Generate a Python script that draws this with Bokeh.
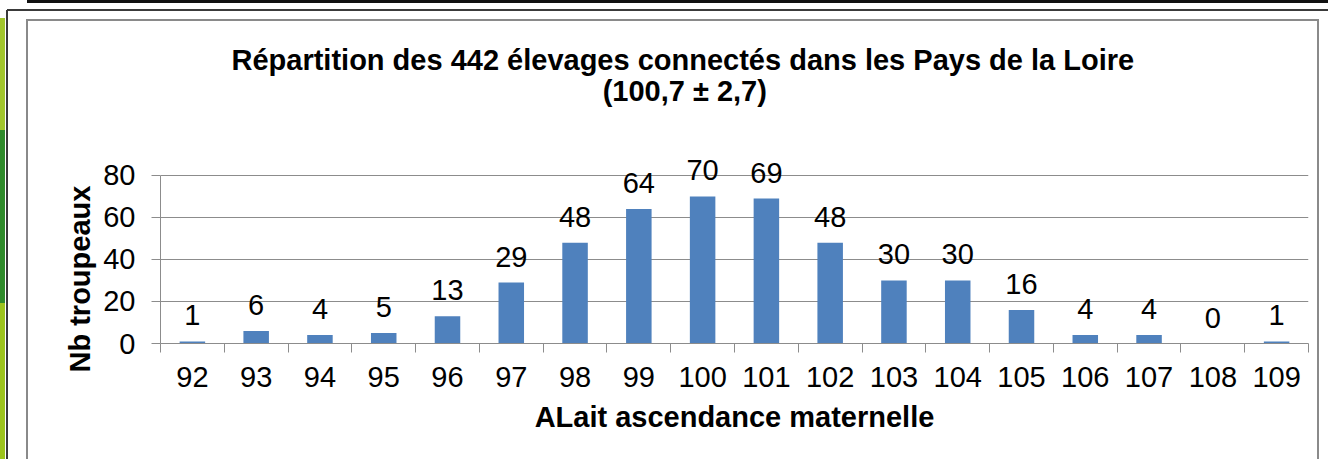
from bokeh.plotting import figure
from bokeh.models import FixedTicker, Title, Label, ColumnDataSource, Range1d
from bokeh.embed import file_html
from bokeh.resources import INLINE
from bokeh.core.properties import value

categories = [92, 93, 94, 95, 96, 97, 98, 99, 100, 101, 102, 103, 104, 105, 106, 107, 108, 109]
counts = [1, 6, 4, 5, 13, 29, 48, 64, 70, 69, 48, 30, 30, 16, 4, 4, 0, 1]
y_ticks = [0, 20, 40, 60, 80]
title_line1 = "Répartition des 442 élevages connectés dans les Pays de la Loire"
title_line2 = "(100,7 ± 2,7)"
x_label = "ALait ascendance maternelle"
y_label = "Nb troupeaux"

FONT = "Liberation Sans"
GRID = "#8c8c8c"
BAR = "#4f81bd"

W, H = 1328, 459

# decorative frame drawn with CSS behind a transparent canvas border
layers = [
    ("#111111", "1301px 3px", "27px 0px"),      # top black rule
    ("#3a3a3a", "1321px 2px", "7px 9px"),       # outer top line
    ("#3a3a3a", "2px 449px", "6px 10px"),       # outer left line
    ("#a2c62c", "5px 112px", "0px 18px"),       # left stripe light
    ("#2f8a2a", "5px 173px", "0px 130px"),      # left stripe dark
    ("#9cc31c", "5px 156px", "0px 303px"),      # left stripe light bottom
    ("#8a8a8a", "2px 439px", "26px 20px"),      # inner left
    ("#8a8a8a", "1293px 2px", "26px 19px"),     # inner top
    ("#8a8a8a", "2px 439px", "1317px 20px"),    # inner right
]
bg_img = ", ".join(f"linear-gradient({c}, {c})" for c, _, _ in layers)
bg_size = ", ".join(s for _, s, _ in layers)
bg_pos = ", ".join(ps for _, _, ps in layers)

# plot frame from y=75 to y=343 px, 2.1 px per unit -> top of range 127.6
p = figure(width=W, height=H, output_backend="svg", toolbar_location=None,
           x_range=Range1d(categories[0] - 0.5, categories[-1] + 0.5),
           y_range=Range1d(0, 127.6),
           min_border_left=160, min_border_right=20,
           min_border_top=75, min_border_bottom=116)
p.styles = {
    "background-color": "white",
    "background-image": bg_img,
    "background-size": bg_size,
    "background-position": bg_pos,
    "background-repeat": "no-repeat",
}
p.outline_line_color = None
p.background_fill_color = "white"
p.border_fill_color = None

src = ColumnDataSource(dict(x=categories, top=counts, lab=[str(c) for c in counts]))
p.vbar(x="x", top="top", bottom=0, width=0.4, source=src, fill_color=BAR, line_color=None)
p.text(x="x", y="top", text="lab", source=src, text_align="center", text_baseline="alphabetic",
       y_offset=-26, text_font=value(FONT), text_font_size="29px", text_color="black")

p.xgrid.visible = False
p.ygrid.grid_line_color = GRID
p.ygrid.grid_line_width = 1

ya = p.yaxis[0]
ya.ticker = FixedTicker(ticks=y_ticks)
ya.bounds = (y_ticks[0], y_ticks[-1])
ya.axis_line_color = GRID
ya.major_tick_line_color = GRID
ya.major_tick_out = 9
ya.major_tick_in = 0
ya.minor_tick_line_color = None
ya.major_label_text_font = FONT
ya.major_label_text_font_size = "29px"
ya.major_label_text_color = "black"
ya.major_label_standoff = 16

xa = p.xaxis[0]
boundaries = [c - 0.5 for c in categories] + [categories[-1] + 0.5]
xa.ticker = FixedTicker(ticks=categories, minor_ticks=boundaries)
xa.axis_line_color = GRID
xa.major_tick_line_color = None
xa.major_tick_out = 9
xa.minor_tick_line_color = GRID
xa.minor_tick_out = 9
xa.minor_tick_in = 0
xa.major_label_text_font = FONT
xa.major_label_text_font_size = "29px"
xa.major_label_text_color = "black"
xa.major_label_standoff = 14
xa.axis_label = x_label
xa.axis_label_text_font = FONT
xa.axis_label_text_font_style = "bold"
xa.axis_label_text_font_size = "29px"
xa.axis_label_text_color = "black"
xa.axis_label_standoff = 11

# title: first line as plot title, second line as a centred label under it
t1 = Title(text=title_line1, align="left", offset=71, standoff=0,
           text_font=FONT, text_font_style="bold", text_font_size="29px", text_color="black")
p.add_layout(t1, "above")
p.add_layout(Label(x=99.72, y=120, text=title_line2, text_align="center", text_baseline="alphabetic",
                   text_font=FONT, text_font_style="bold", text_font_size="29px", text_color="black"))

ty = Title(text=y_label, align="left", offset=-29, standoff=10,
           text_font=FONT, text_font_style="bold", text_font_size="29px", text_color="black")
p.add_layout(ty, "left")

open("out.html", "w").write(file_html(p, INLINE))
